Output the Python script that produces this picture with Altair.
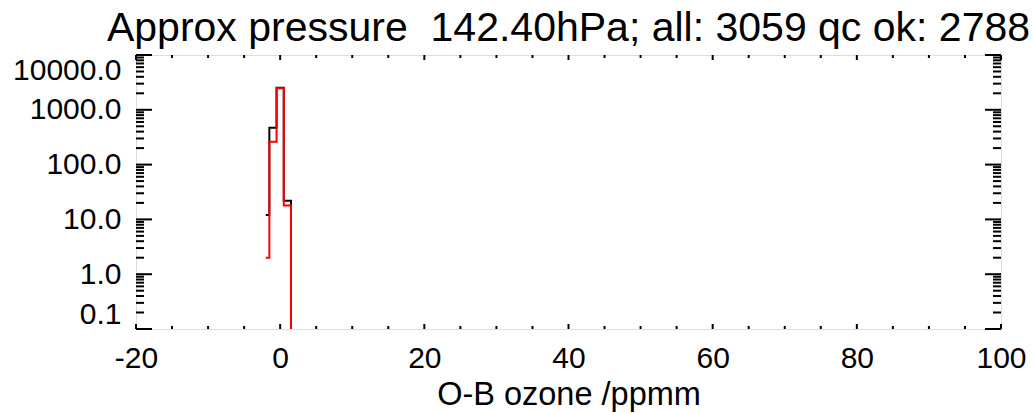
import altair as alt
import pandas as pd

# Histogram bin centres (O-B ozone, ppmm) and counts
bin_centres = [-2, -1, 0, 1, 2]
counts_all = [12, 471, 2530, 22, 0]
counts_qcok = [2, 262, 2480, 18, 0]

# Axis tick values
x_major = [-20, 0, 20, 40, 60, 80, 100]
x_minor = [-15, -10, -5, 5, 10, 15, 25, 30, 35, 45, 50, 55, 65, 70, 75, 85, 90, 95]
y_major = [0.1, 1.0, 10.0, 100.0, 1000.0, 10000.0]
y_minor = [m * d for d in [0.1, 1.0, 10.0, 100.0, 1000.0] for m in range(2, 10)]

title_text = "Approx pressure \u00a0142.40hPa; all: 3059 qc ok: 2788"
x_title = "O-B ozone /ppmm"

W, H = 865, 274
FONT = "Liberation Sans"

df_all = pd.DataFrame({"x": bin_centres, "n": counts_all})
df_ok = pd.DataFrame({"x": bin_centres, "n": counts_qcok})

xscale = alt.Scale(domain=[-20, 100], nice=False, zero=False)
yscale = alt.Scale(type="log", domain=[0.1, 10000], nice=False)

xaxis = alt.Axis(values=x_major, ticks=False, tickSize=0, domain=False, grid=False,
                 labelExpr="datum.value + ''",
                 labelFontSize=30, labelFont=FONT, labelColor="black", labelPadding=14,
                 labelFlush=False, labelOverlap=False,
                 title=x_title, titleFont=FONT, titleFontSize=32.5, titleFontWeight="normal",
                 titleColor="black", titlePadding=5)
yaxis = alt.Axis(values=y_major, format=".1f", ticks=False, tickSize=0, domain=False, grid=False,
                 labelFontSize=30, labelFont=FONT, labelColor="black", labelPadding=15,
                 labelFlush=True, labelOverlap=False, title="")

X = lambda f: alt.X(f, type="quantitative", scale=xscale, axis=xaxis)
Y = lambda f: alt.Y(f, type="quantitative", scale=yscale, axis=yaxis)

def hist(df, color):
    return alt.Chart(df).transform_calculate(
        ny="max(datum.n, 0.01)"
    ).mark_line(interpolate="step", color=color, strokeWidth=2, clip=True).encode(
        x=X("x"), y=Y("ny")
    )

# inward ticks drawn as rules
ymaj = pd.DataFrame({"y": y_major})
ymin = pd.DataFrame({"y": y_minor})
xmaj = pd.DataFrame({"x": x_major})
xmin = pd.DataFrame({"x": x_minor})

def yticks(df, length):
    left = alt.Chart(df).mark_rule(color="black", strokeWidth=2).encode(
        y=Y("y"), x=alt.value(0), x2=alt.value(length))
    right = alt.Chart(df).mark_rule(color="black", strokeWidth=2).encode(
        y=Y("y"), x=alt.value(W - length), x2=alt.value(W))
    return [left, right]

def xticks(df, length):
    bottom = alt.Chart(df).mark_rule(color="black", strokeWidth=2).encode(
        x=X("x"), y=alt.value(H), y2=alt.value(H - length))
    top = alt.Chart(df).mark_rule(color="black", strokeWidth=2).encode(
        x=X("x"), y=alt.value(0), y2=alt.value(length))
    return [bottom, top]

layers = (yticks(ymaj, 16) + yticks(ymin, 8) + xticks(xmaj, 5) + xticks(xmin, 3)
          + [hist(df_all, "black"), hist(df_ok, "#ff0000")])

chart = alt.layer(*layers).properties(
    width=W, height=H,
    title=alt.TitleParams(title_text, font=FONT, fontSize=41, fontWeight="normal",
                          color="black", anchor="middle", baseline="bottom", offset=7, dy=44),
    autosize=alt.AutoSizeParams(type="none"),
    padding={"left": 136, "top": 55, "right": 33, "bottom": 84},
).configure_view(stroke="black", strokeWidth=2.5).configure(background="white")

chart.save("out.html", embed_options={"renderer": "svg", "actions": False})
